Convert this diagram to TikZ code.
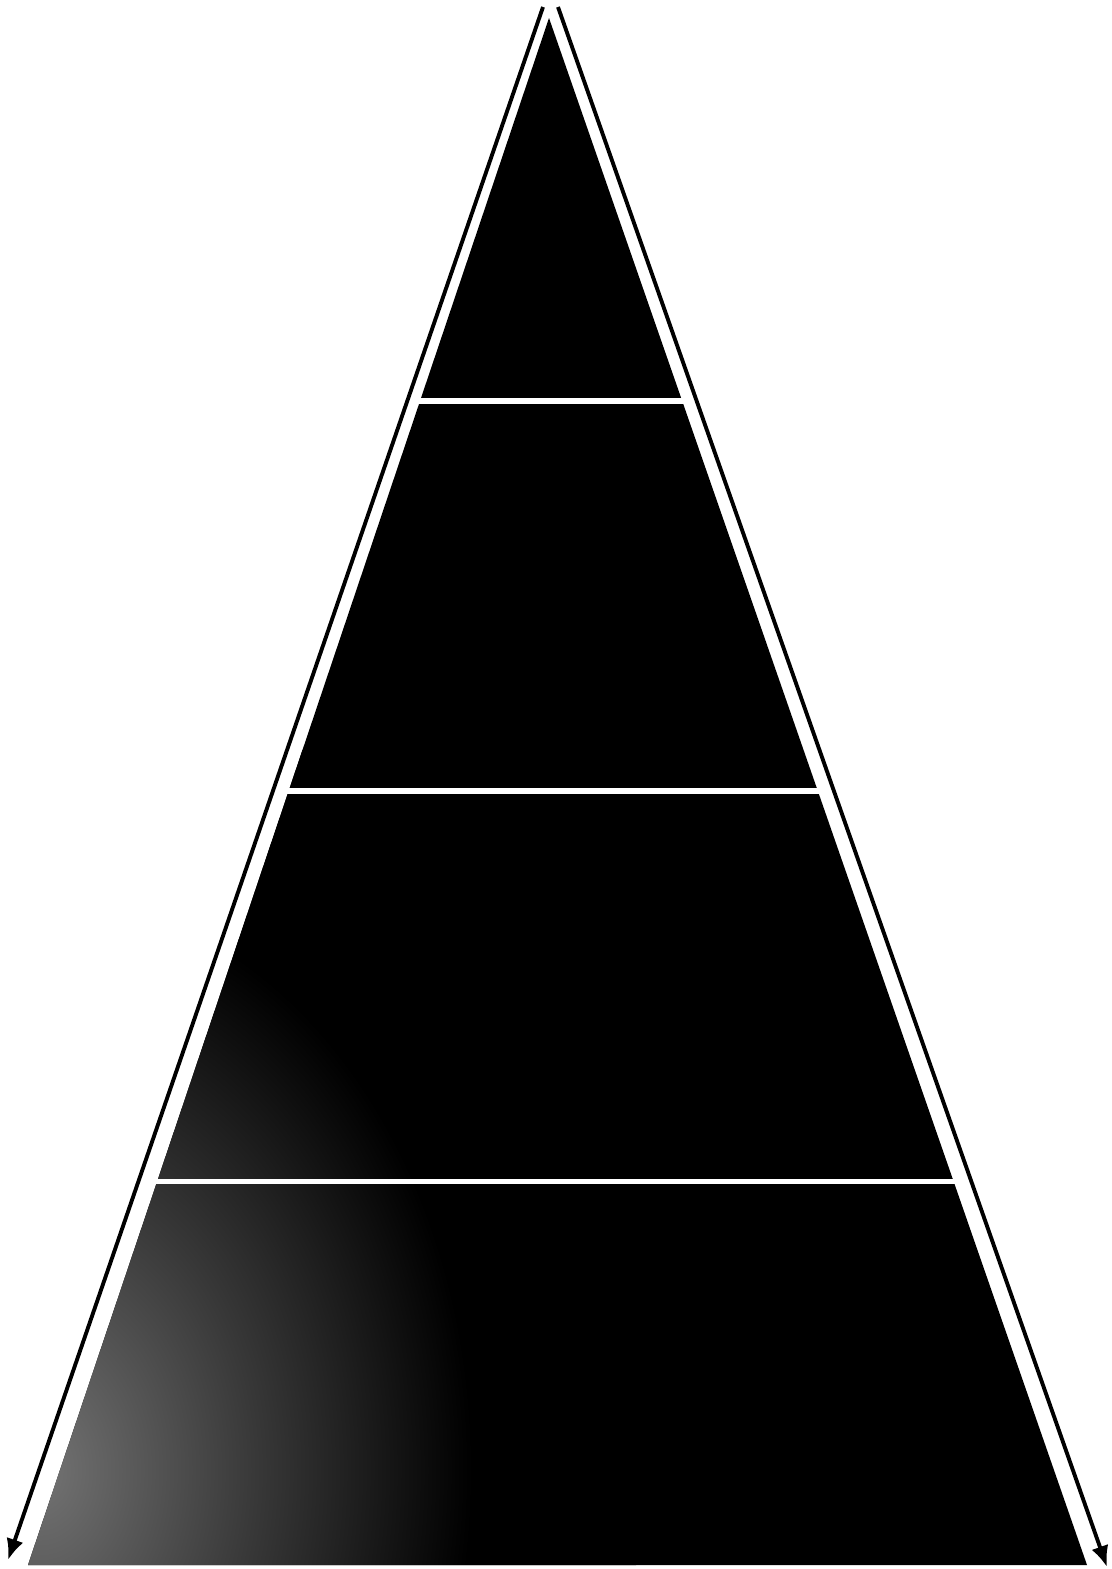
\documentclass[tikz,border=0pt]{standalone}
\usepackage{tikz}
\usetikzlibrary{calc}
\usetikzlibrary{arrows.meta}
\tikzset{>={Latex[length=6pt,width=5pt]}}
\pgfdeclareradialshading{greypatch}{\pgfpointorigin}{color(0bp)=(black!55); color(9bp)=(black!78); color(18bp)=(black); color(50bp)=(black)}
\tikzstyle{layer}=[fill=black]
\tikzstyle{divider}=[white,line width=1.5pt]
\tikzstyle{side}=[->,line width=1.1pt]

\begin{document}
\begin{tikzpicture}[x=0.01cm,y=-0.01cm]
  \useasboundingbox[fill=white] (0,0) rectangle (1112,1569);
  \coordinate (apex) at (549,18);
  \coordinate (bl) at (28,1565);
  \coordinate (br) at (1087,1565);
  \coordinate (ltop) at (543,7);
  \coordinate (lend) at (8,1560);
  \coordinate (rtop) at (558,7);
  \coordinate (rend) at (1107,1567);
  \fill[layer] (apex) -- (bl) -- (br) -- cycle;
  % grey patch at the lower left
  \begin{scope}
    \clip (apex) -- (bl) -- (br) -- cycle;
    \shade[shading=greypatch] (40,1470) ellipse (6cm and 8cm);
  \end{scope}
  \foreach \f in {0.2476,0.4997,0.752}{
    \draw[divider] ($(apex)!\f!(bl)+(-3,0)$) -- ($(apex)!\f!(br)+(3,0)$);
  }
  \draw[side] (ltop) -- (lend);
  \draw[side] (rtop) -- (rend);
\end{tikzpicture}
\end{document}
